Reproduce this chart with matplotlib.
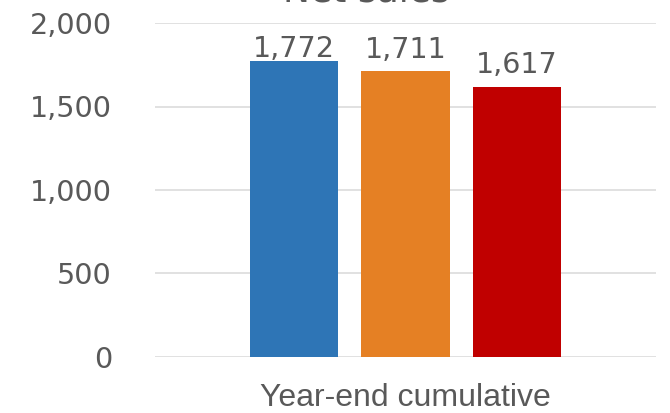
import matplotlib
matplotlib.use("Agg")
import matplotlib.pyplot as plt

# Chart data
title = "Net sales"
category = "Year-end cumulative"
values = [1772, 1711, 1617]
bar_colors = ["#2E75B6", "#E58024", "#C00000"]
y_ticks = [0, 500, 1000, 1500, 2000]
y_tick_labels = ["0", "500", "1,000", "1,500", "2,000"]

text_color = "#595959"
grid_color = "#D9D9D9"

fig = plt.figure(figsize=(6.7, 4.13), dpi=100)
ax = fig.add_axes([155 / 670, 1 - 356.7 / 413, 501 / 670, (356.7 - 23.1) / 413])

# Three clustered bars around the single category position
bar_width = 0.176
step = 0.2226
offsets = [(i - (len(values) - 1) / 2) * step for i in range(len(values))]
bars = ax.bar(offsets, values, width=bar_width, color=bar_colors, zorder=3)

ax.set_xlim(-0.5, 0.5)
ax.set_ylim(0, 2000)

# Value labels above bars, kept inside the plotting area
label_gap = 81
label_ceiling = 1797
for x, v in zip(offsets, values):
    y = min(v + label_gap, label_ceiling)
    ax.text(x, y, f"{v:,}", ha="center", va="baseline",
            fontsize=20.6, color=text_color, family="DejaVu Sans", zorder=4)

ax.set_yticks(y_ticks)
ax.set_yticklabels(y_tick_labels, fontsize=20.6, color=text_color, family="DejaVu Sans")
ax.set_xticks([0])
ax.set_xticklabels([category], fontsize=23, color=text_color, family="Liberation Sans")
ax.tick_params(axis="y", length=0, pad=31)
ax.tick_params(axis="x", length=0, pad=19)

ax.yaxis.grid(True, color=grid_color, linewidth=1.1, zorder=0)
ax.set_axisbelow(True)
for s in ax.spines.values():
    s.set_visible(False)

# Chart title, sitting at the very top edge
fig.text(366 / 670, 1 - 1.5 / 413, title, ha="center", va="baseline",
         fontsize=26, color=text_color, family="DejaVu Sans")

fig.savefig("out.png", dpi=100)
